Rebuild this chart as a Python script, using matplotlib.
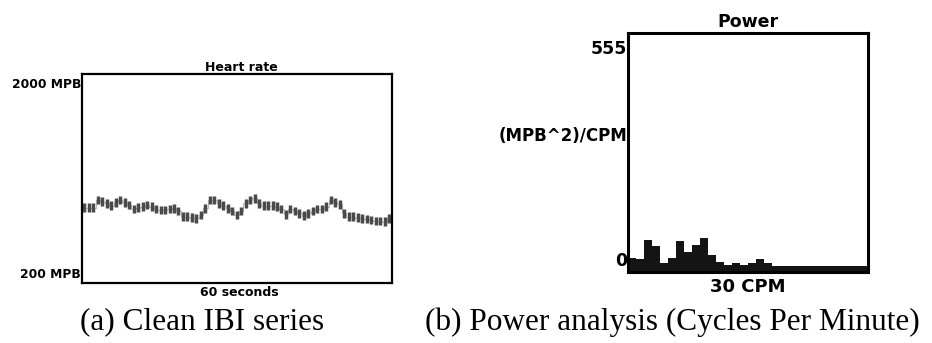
import numpy as np
import matplotlib
matplotlib.use('Agg')
import matplotlib.pyplot as plt

# heart rate (IBI) series, MPB
heart_rate = [848, 848, 848, 914, 900, 886, 865, 894, 914, 894, 871, 837, 848, 856, 871, 856,
              837, 828, 828, 837, 843, 819,
              770, 770, 761, 756, 785, 843, 914, 914, 886, 865, 843, 819, 785, 819, 886, 914,
              929, 886, 865, 865, 865, 856, 837, 791,
              837, 819, 799, 779, 799, 819, 837, 837, 856, 914, 894, 877, 799, 770, 770, 761,
              756, 750, 742, 733, 733, 727, 756]
hr_min, hr_max = 200, 2000

# power spectrum, one bin per CPM, 0..30
power = [34, 31, 75, 61, 22, 33, 73, 46, 63, 80, 40, 25, 17, 22, 17, 22, 31, 22,
         15, 15, 15, 15, 15, 15, 15, 15, 15, 15, 15, 15]
power_max = 555
cpm_max = 30

W, H = 932, 343
fig = plt.figure(figsize=(W / 100, H / 100), dpi=100)


def box(x0, y0, x1, y1):
    # axes from pixel corners (top-left origin)
    return fig.add_axes([x0 / W, 1 - y1 / H, (x1 - x0) / W, (y1 - y0) / H])


def label(x, y, s, **kw):
    fig.text(x / W, 1 - y / H, s, **kw)


bold = dict(family='DejaVu Sans', fontweight='bold')

# ---- (a) heart rate ----
ax1 = box(81.7, 74.3, 391.7, 282.7)
xs = np.arange(len(heart_rate))
hr = np.array(heart_rate)
ax1.step(xs, hr, where='mid', color='#b8b8b8', lw=0.8, zorder=1)
ax1.vlines(xs, hr - 38, hr + 38, color='#4a4a4a', lw=2.5, zorder=2)
ax1.set_xlim(-0.6, len(heart_rate) - 0.4)
ax1.set_ylim(hr_min, hr_max)
ax1.set_xticks([])
ax1.set_yticks([])
for sp in ax1.spines.values():
    sp.set_linewidth(1.6)
    sp.set_color('black')

label(241.5, 67.5, 'Heart rate', ha='center', va='center', fontsize=9, **bold)
label(81, 84, '2000 MPB', ha='right', va='center', fontsize=8.8, **bold)
label(81, 274, '200 MPB', ha='right', va='center', fontsize=8.8, **bold)
label(239, 292, '60 seconds', ha='center', va='center', fontsize=9, **bold)

# ---- (b) power ----
ax2 = box(627.7, 33, 868.3, 272.3)
ax2.bar(np.arange(cpm_max), power, width=1.0, align='edge', color='#141414', edgecolor='none')
ax2.set_xlim(0, cpm_max)
ax2.set_ylim(0, power_max)
ax2.set_xticks([])
ax2.set_yticks([])
for sp in ax2.spines.values():
    sp.set_linewidth(2.2)
    sp.set_color('black')

label(748, 22, 'Power', ha='center', va='center', fontsize=12.5, **bold)
label(627, 49, '555', ha='right', va='center', fontsize=12.5, **bold)
label(627, 136, '(MPB^2)/CPM', ha='right', va='center', fontsize=12, **bold)
label(627, 261, '0', ha='right', va='center', fontsize=12.5, **bold)
label(748, 287, '30 CPM', ha='center', va='center', fontsize=13, **bold)

# ---- captions ----
label(80, 322, '(a) Clean IBI series', ha='left', va='center',
      family='Liberation Serif', fontsize=22.5)
label(425, 322, '(b) Power analysis (Cycles Per Minute)', ha='left', va='center',
      family='Liberation Serif', fontsize=22.5)

fig.savefig('out.png', dpi=100)
